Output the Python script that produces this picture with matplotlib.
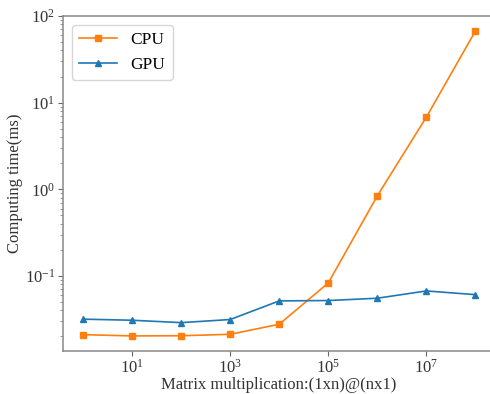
import matplotlib
matplotlib.use("Agg")
import matplotlib.pyplot as plt

sizes = [1e0, 1e1, 1e2, 1e3, 1e4, 1e5, 1e6, 1e7, 1e8]
cpu_ms = [0.021, 0.0203, 0.0204, 0.0212, 0.0277, 0.083, 0.84, 6.8, 67]
gpu_ms = [0.0317, 0.0308, 0.0289, 0.0314, 0.0515, 0.052, 0.0553, 0.0671, 0.0608]

plt.rcParams["font.family"] = ["Liberation Serif", "DejaVu Serif"]
plt.rcParams["mathtext.fontset"] = "stix"

fig = plt.figure(figsize=(4.9, 3.94), dpi=100)
ax = fig.add_axes([63 / 490, 43 / 394, 432 / 490, 335 / 394])

ax.plot(sizes, cpu_ms, "s-", color="#ff7f0e", ms=4.5, lw=1.2, label="CPU")
ax.plot(sizes, gpu_ms, "^-", color="#1f77b4", ms=4.5, lw=1.2, label="GPU")
ax.set_xscale("log")
ax.set_yscale("log")
ax.set_ylim(0.0136, 100)
ax.set_xlim(10 ** -0.41, 10 ** 8.4)
ax.set_xticks([1e1, 1e3, 1e5, 1e7])
ax.minorticks_off()
ax.yaxis.set_minor_locator(matplotlib.ticker.LogLocator(base=10, subs=range(2, 10), numticks=20))

for s in ax.spines.values():
    s.set_color("#888888")
    s.set_linewidth(1.1)
ax.spines["right"].set_visible(False)
ax.tick_params(colors="#666666", labelcolor="#333333", labelsize=12, pad=2)
ax.tick_params(which="minor", colors="#888888")

ax.set_xlabel("Matrix multiplication:(1xn)@(nx1)", fontsize=12, color="#333333", labelpad=0)
ax.set_ylabel("Computing time(ms)", fontsize=12, color="#333333", labelpad=1)
ax.legend(loc="upper left", fontsize=12.5, handlelength=2.2, borderaxespad=0.5)

fig.savefig("out.png", dpi=100)
